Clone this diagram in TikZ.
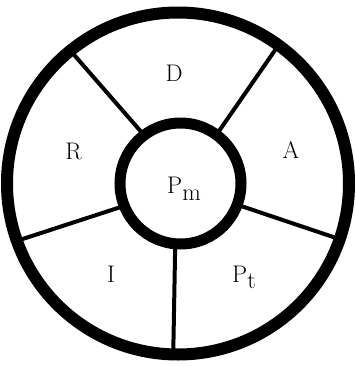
\documentclass[tikz,border=0pt]{standalone}
\begin{document}
\begin{tikzpicture}[x=1bp,y=1bp,
  outerring/.style={line width=12bp},
  innerring/.style={line width=11bp},
  spoke/.style={line width=4bp},
  lbl/.style={inner sep=0pt, font=\fontsize{24bp}{24bp}\selectfont}]
\useasboundingbox (0,0) rectangle (356,-366);
\coordinate (co) at (178,-183.5);
\coordinate (ci) at (180.5,-183.5);
% spoke ends
\coordinate (i1) at ([shift={(127:60.5)}]ci);
\coordinate (o1) at ([shift={(129:171)}]co);
\coordinate (i2) at ([shift={(53.6:60.5)}]ci);
\coordinate (o2) at ([shift={(54:171)}]co);
\coordinate (i3) at ([shift={(-20.5:60.5)}]ci);
\coordinate (o3) at ([shift={(-19:171)}]co);
\coordinate (i4) at ([shift={(-95:60.5)}]ci);
\coordinate (o4) at ([shift={(-91.6:171)}]co);
\coordinate (i5) at ([shift={(201.7:60.5)}]ci);
\coordinate (o5) at ([shift={(199.6:171)}]co);
\foreach \k in {1,...,5} {\draw[spoke] (i\k) -- (o\k);}
\draw[outerring] (co) circle[radius=171];
\draw[innerring] (ci) circle[radius=60.5];
% labels
\node[lbl] (d) at (174,-73.5) {D};
\node[lbl] (r) at (73.5,-151.5) {R};
\node[lbl] (a) at (291,-150.5) {A};
\node[lbl] (i) at (111,-274.5) {I};
\node[lbl, anchor=base west] (pm) at (167,-193) {P\raisebox{-7bp}{m}};
\node[lbl, anchor=base west] (pt) at (232,-282) {P\raisebox{-6bp}{t}};
\end{tikzpicture}
\end{document}
